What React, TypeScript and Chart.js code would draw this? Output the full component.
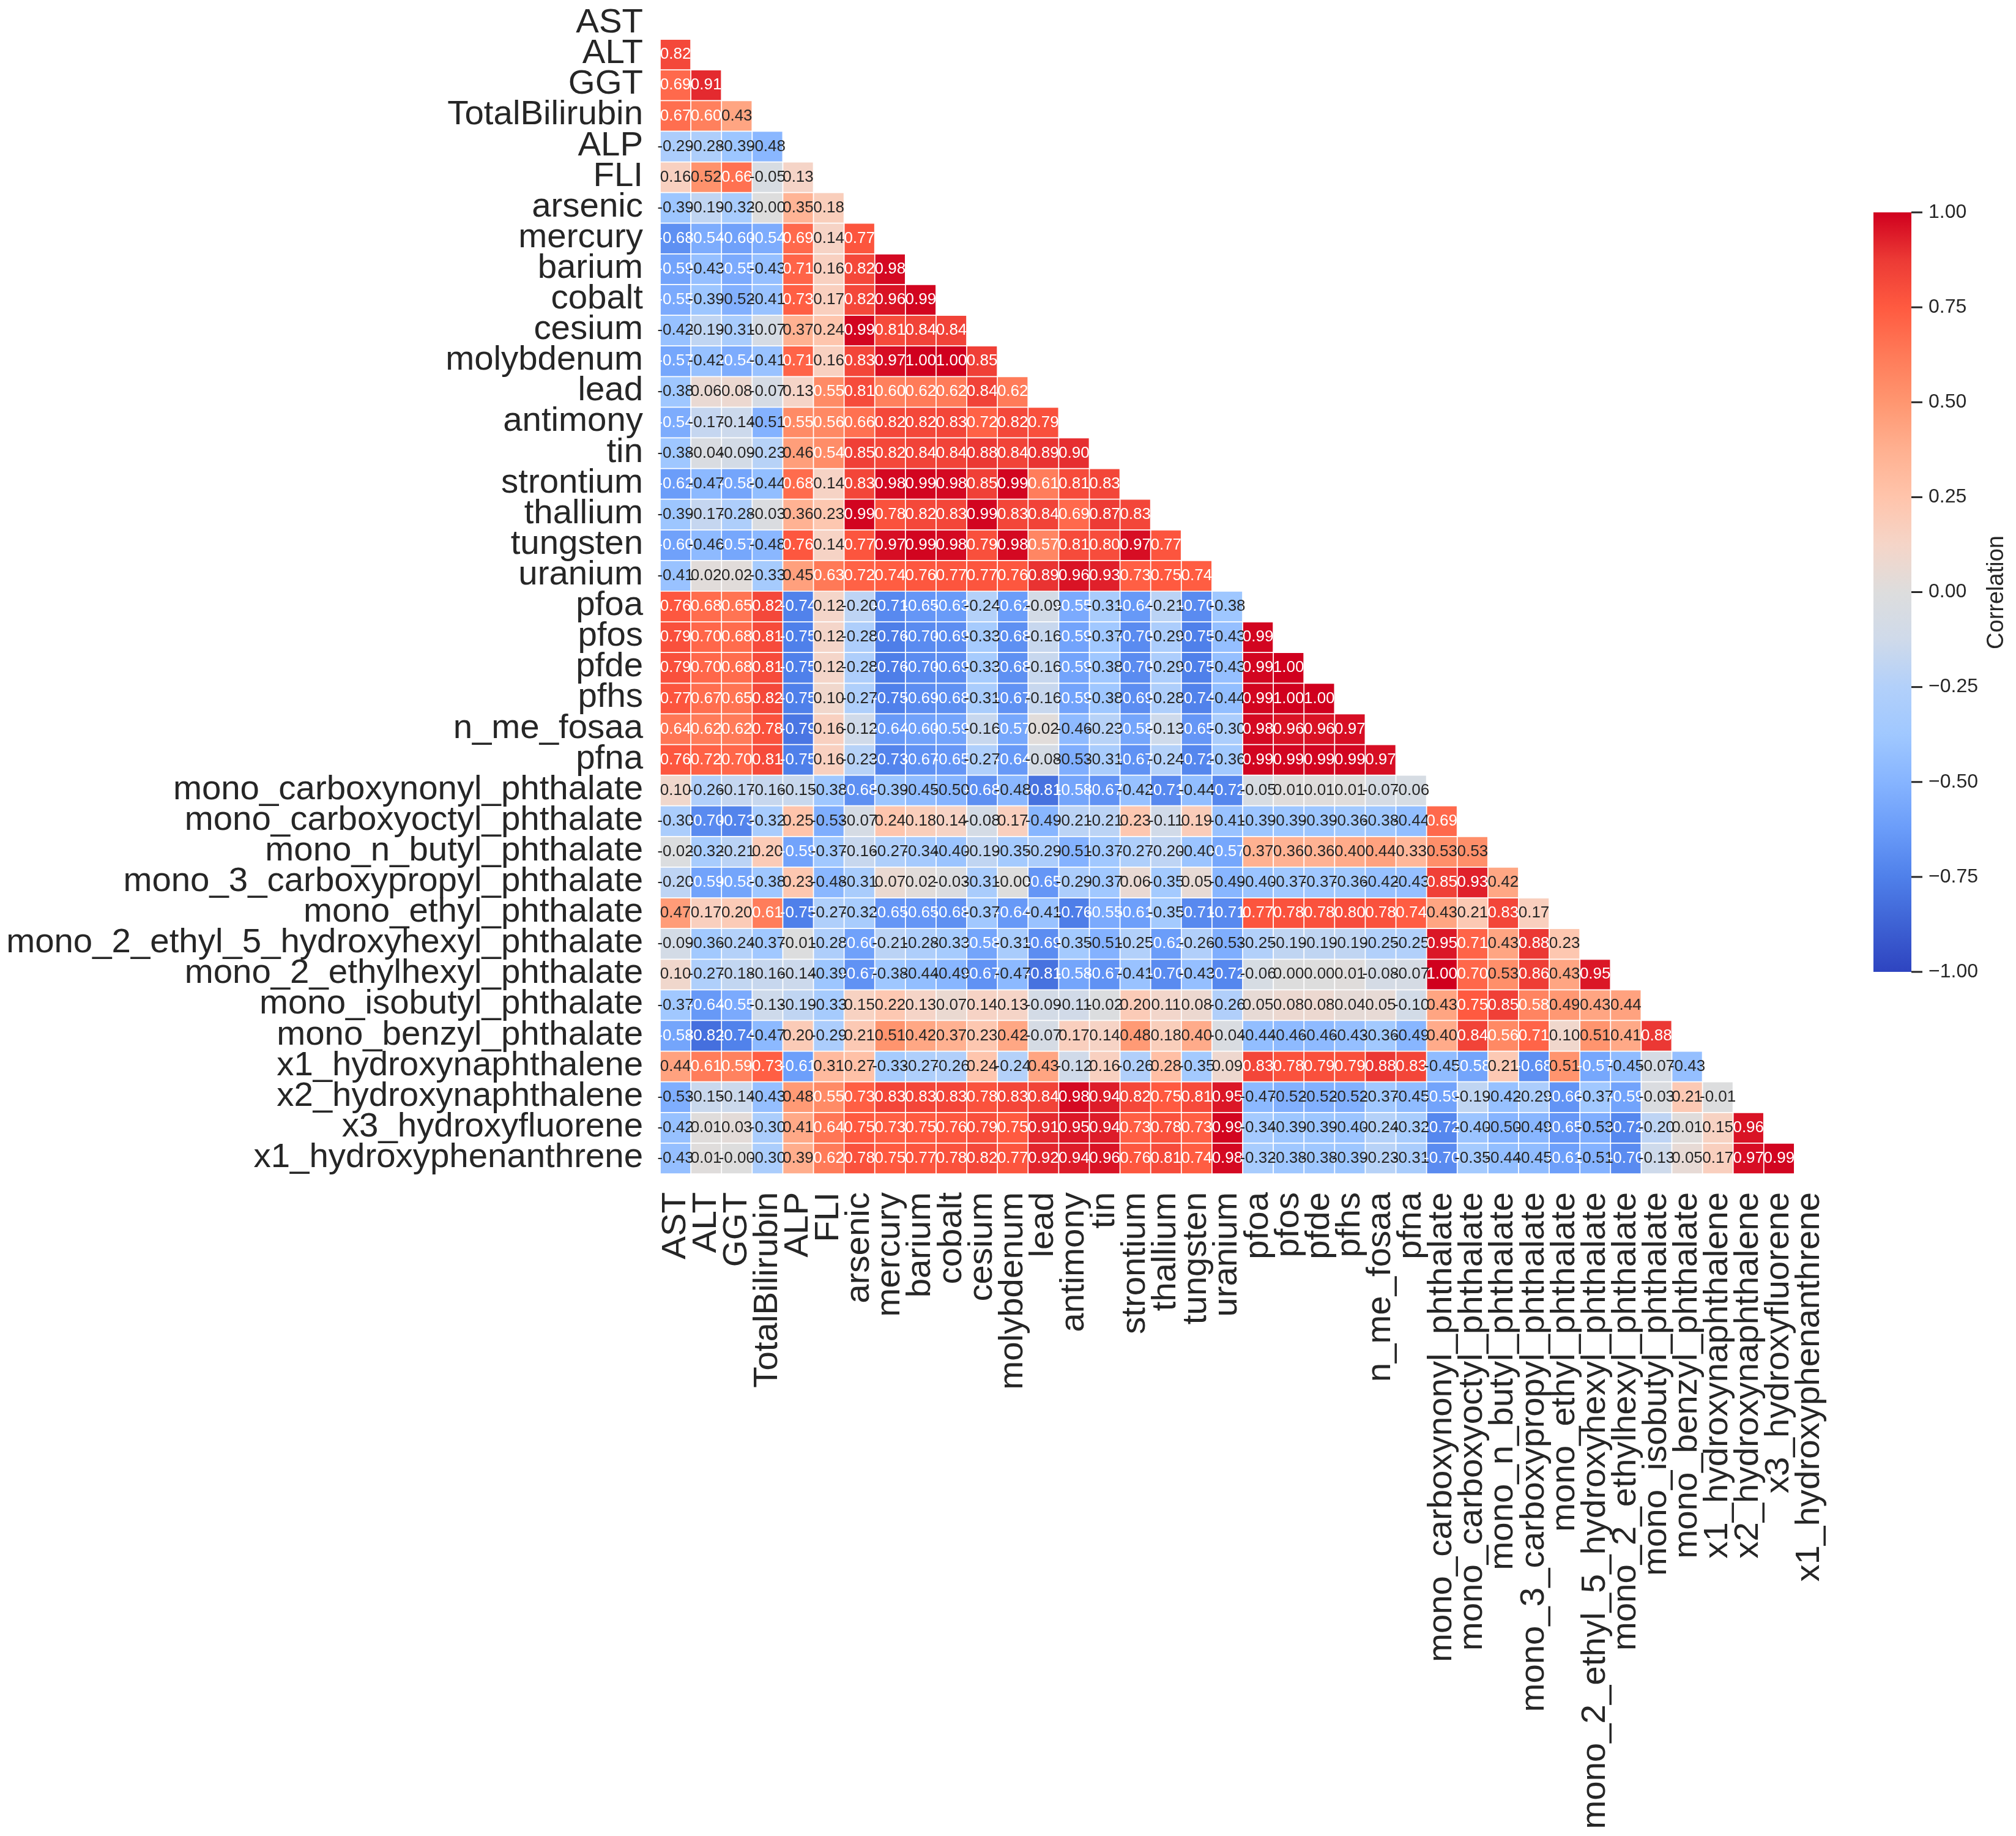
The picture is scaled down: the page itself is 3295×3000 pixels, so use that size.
import React, { useEffect, useRef } from "react";
import { Chart, registerables } from "chart.js";

Chart.register(...registerables);

const variables = [
  "AST", "ALT", "GGT", "TotalBilirubin", "ALP", "FLI", "arsenic", "mercury", "barium", "cobalt",
  "cesium", "molybdenum", "lead", "antimony", "tin", "strontium", "thallium", "tungsten", "uranium",
  "pfoa", "pfos", "pfde", "pfhs", "n_me_fosaa", "pfna", "mono_carboxynonyl_phthalate",
  "mono_carboxyoctyl_phthalate", "mono_n_butyl_phthalate", "mono_3_carboxypropyl_phthalate",
  "mono_ethyl_phthalate", "mono_2_ethyl_5_hydroxyhexyl_phthalate", "mono_2_ethylhexyl_phthalate",
  "mono_isobutyl_phthalate", "mono_benzyl_phthalate", "x1_hydroxynaphthalene", "x2_hydroxynaphthalene",
  "x3_hydroxyfluorene", "x1_hydroxyphenanthrene",
];

const rowAST: number[] = [];
const rowALT = [0.82];
const rowGGT = [0.69, 0.91];
const rowBilirubin = [0.67, 0.6, 0.43];
const rowALP = [-0.29, -0.28, -0.39, -0.48];
const rowFLI = [0.16, 0.52, 0.66, -0.05, 0.13];
const rowArsenic = [-0.39, -0.19, -0.32, -0.001, 0.35, 0.18];
const rowMercury = [-0.68, -0.54, -0.6, -0.54, 0.69, 0.14, 0.77];
const rowBarium = [-0.59, -0.43, -0.55, -0.43, 0.71, 0.16, 0.82, 0.98];
const rowCobalt = [-0.55, -0.39, -0.52, -0.41, 0.73, 0.17, 0.82, 0.96, 0.99];
const rowCesium = [-0.42, -0.19, -0.31, -0.07, 0.37, 0.24, 0.99, 0.81, 0.84, 0.84];
const rowMolybdenum = [-0.57, -0.42, -0.54, -0.41, 0.71, 0.16, 0.83, 0.97, 1.0, 1.0, 0.85];
const rowLead = [-0.38, 0.06, 0.08, -0.07, 0.13, 0.55, 0.81, 0.6, 0.62, 0.62, 0.84, 0.62];
const rowAntimony = [-0.54, -0.17, -0.14, -0.51, 0.55, 0.56, 0.66, 0.82, 0.82, 0.83, 0.72, 0.82, 0.79];
const rowTin = [-0.38, -0.04, -0.09, -0.23, 0.46, 0.54, 0.85, 0.82, 0.84, 0.84, 0.88, 0.84, 0.89, 0.9];
const rowStrontium = [-0.62, -0.47, -0.58, -0.44, 0.68, 0.14, 0.83, 0.98, 0.99, 0.98, 0.85, 0.99, 0.61, 0.81, 0.83];
const rowThallium = [-0.39, -0.17, -0.28, -0.03, 0.36, 0.23, 0.99, 0.78, 0.82, 0.83, 0.99, 0.83, 0.84, 0.69, 0.87, 0.83];
const rowTungsten = [-0.6, -0.46, -0.57, -0.48, 0.76, 0.14, 0.77, 0.97, 0.99, 0.98, 0.79, 0.98, 0.57, 0.81, 0.8, 0.97, 0.77];
const rowUranium = [-0.41, 0.02, 0.02, -0.33, 0.45, 0.63, 0.72, 0.74, 0.76, 0.77, 0.77, 0.76, 0.89, 0.96, 0.93, 0.73, 0.75, 0.74];
const rowPfoa = [0.76, 0.68, 0.65, 0.82, -0.74, 0.12, -0.2, -0.71, -0.65, -0.63, -0.24, -0.62, -0.09, -0.55, -0.31, -0.64, -0.21, -0.7, -0.38];
const rowPfos = [0.79, 0.7, 0.68, 0.81, -0.75, 0.12, -0.28, -0.76, -0.7, -0.69, -0.33, -0.68, -0.16, -0.59, -0.37, -0.7, -0.29, -0.75, -0.43, 0.99];
const rowPfde = [0.79, 0.7, 0.68, 0.81, -0.75, 0.12, -0.28, -0.76, -0.7, -0.69, -0.33, -0.68, -0.16, -0.59, -0.38, -0.7, -0.29, -0.75, -0.43, 0.99, 1.0];
const rowPfhs = [0.77, 0.67, 0.65, 0.82, -0.75, 0.1, -0.27, -0.75, -0.69, -0.68, -0.31, -0.67, -0.16, -0.59, -0.38, -0.69, -0.28, -0.74, -0.44, 0.99, 1.0, 1.0];
const rowFosaa = [0.64, 0.62, 0.62, 0.78, -0.79, 0.16, -0.12, -0.64, -0.6, -0.59, -0.16, -0.57, 0.02, -0.46, -0.23, -0.58, -0.13, -0.65, -0.3, 0.98, 0.96, 0.96, 0.97];
const rowPfna = [0.76, 0.72, 0.7, 0.81, -0.75, 0.16, -0.23, -0.73, -0.67, -0.65, -0.27, -0.64, -0.08, -0.53, -0.31, -0.67, -0.24, -0.72, -0.36, 0.99, 0.99, 0.99, 0.99, 0.97];
const rowCarboxynonyl = [0.1, -0.26, -0.17, -0.16, -0.15, -0.38, -0.68, -0.39, -0.45, -0.5, -0.68, -0.48, -0.81, -0.58, -0.67, -0.42, -0.71, -0.44, -0.72, -0.05, 0.01, 0.01, 0.01, -0.07, -0.06];
const rowCarboxyoctyl = [-0.3, -0.7, -0.73, -0.32, 0.25, -0.53, -0.07, 0.24, 0.18, 0.14, -0.08, 0.17, -0.49, -0.21, -0.21, 0.23, -0.11, 0.19, -0.41, -0.39, -0.39, -0.39, -0.36, -0.38, -0.44, 0.69];
const rowButyl = [-0.02, -0.32, -0.21, 0.2, -0.59, -0.37, -0.16, -0.27, -0.34, -0.4, -0.19, -0.35, -0.29, -0.51, -0.37, -0.27, -0.2, -0.4, -0.57, 0.37, 0.36, 0.36, 0.4, 0.44, 0.33, 0.53, 0.53];
const rowCarboxypropyl = [-0.2, -0.59, -0.58, -0.38, 0.23, -0.48, -0.31, 0.07, 0.02, -0.03, -0.31, -0.001, -0.65, -0.29, -0.37, 0.06, -0.35, 0.05, -0.49, -0.4, -0.37, -0.37, -0.36, -0.42, -0.43, 0.85, 0.93, 0.42];
const rowEthyl = [0.47, 0.17, 0.2, 0.61, -0.75, -0.27, -0.32, -0.65, -0.65, -0.68, -0.37, -0.64, -0.41, -0.76, -0.55, -0.61, -0.35, -0.71, -0.71, 0.77, 0.78, 0.78, 0.8, 0.78, 0.74, 0.43, 0.21, 0.83, 0.17];
const rowEthylHydroxyhexyl = [-0.09, -0.36, -0.24, -0.37, -0.01, -0.28, -0.6, -0.21, -0.28, -0.33, -0.58, -0.31, -0.69, -0.35, -0.51, -0.25, -0.62, -0.26, -0.53, -0.25, -0.19, -0.19, -0.19, -0.25, -0.25, 0.95, 0.71, 0.43, 0.88, 0.23];
const rowEthylhexyl = [0.1, -0.27, -0.18, -0.16, -0.14, -0.39, -0.67, -0.38, -0.44, -0.49, -0.67, -0.47, -0.81, -0.58, -0.67, -0.41, -0.7, -0.43, -0.72, -0.06, 0.0, 0.0, 0.01, -0.08, -0.07, 1.0, 0.7, 0.53, 0.86, 0.43, 0.95];
const rowIsobutyl = [-0.37, -0.64, -0.55, -0.13, -0.19, -0.33, 0.15, 0.22, 0.13, 0.07, 0.14, 0.13, -0.09, -0.11, -0.02, 0.2, 0.11, 0.08, -0.26, 0.05, 0.08, 0.08, 0.04, 0.05, -0.1, 0.43, 0.75, 0.85, 0.58, 0.49, 0.43, 0.44];
const rowBenzyl = [-0.58, -0.82, -0.74, -0.47, 0.2, -0.29, 0.21, 0.51, 0.42, 0.37, 0.23, 0.42, -0.07, 0.17, 0.14, 0.48, 0.18, 0.4, -0.04, -0.44, -0.46, -0.46, -0.43, -0.36, -0.49, 0.4, 0.84, 0.56, 0.71, 0.1, 0.51, 0.41, 0.88];
const rowX1Naph = [0.44, 0.61, 0.59, 0.73, -0.61, 0.31, 0.27, -0.33, -0.27, -0.26, 0.24, -0.24, 0.43, -0.12, 0.16, -0.26, 0.28, -0.35, 0.09, 0.83, 0.78, 0.79, 0.79, 0.88, 0.83, -0.45, -0.58, 0.21, -0.68, 0.51, -0.57, -0.45, -0.07, -0.43];
const rowX2Naph = [-0.53, -0.15, -0.14, -0.43, 0.48, 0.55, 0.73, 0.83, 0.83, 0.83, 0.78, 0.83, 0.84, 0.98, 0.94, 0.82, 0.75, 0.81, 0.95, -0.47, -0.52, -0.52, -0.52, -0.37, -0.45, -0.59, -0.19, -0.42, -0.29, -0.66, -0.37, -0.59, -0.03, 0.21, -0.01];
const rowX3Fluorene = [-0.42, 0.01, 0.03, -0.3, 0.41, 0.64, 0.75, 0.73, 0.75, 0.76, 0.79, 0.75, 0.91, 0.95, 0.94, 0.73, 0.78, 0.73, 0.99, -0.34, -0.39, -0.39, -0.4, -0.24, -0.32, -0.72, -0.4, -0.5, -0.49, -0.65, -0.53, -0.72, -0.2, 0.01, 0.15, 0.96];
const rowX1Phenanthrene = [-0.43, 0.01, -0.001, -0.3, 0.39, 0.62, 0.78, 0.75, 0.77, 0.78, 0.82, 0.77, 0.92, 0.94, 0.96, 0.76, 0.81, 0.74, 0.98, -0.32, -0.38, -0.38, -0.39, -0.23, -0.31, -0.7, -0.35, -0.44, -0.45, -0.61, -0.51, -0.7, -0.13, 0.05, 0.17, 0.97, 0.99];

const matrixRows = [
  rowAST, rowALT, rowGGT, rowBilirubin, rowALP, rowFLI, rowArsenic, rowMercury, rowBarium, rowCobalt,
  rowCesium, rowMolybdenum, rowLead, rowAntimony, rowTin, rowStrontium, rowThallium, rowTungsten, rowUranium,
  rowPfoa, rowPfos, rowPfde, rowPfhs, rowFosaa, rowPfna, rowCarboxynonyl, rowCarboxyoctyl, rowButyl,
  rowCarboxypropyl, rowEthyl, rowEthylHydroxyhexyl, rowEthylhexyl, rowIsobutyl, rowBenzyl, rowX1Naph,
  rowX2Naph, rowX3Fluorene, rowX1Phenanthrene,
];

const colorbarTicks = [1, 0.75, 0.5, 0.25, 0, -0.25, -0.5, -0.75, -1];
const colorbarTitle = "Correlation";

const colorStops: [number, string][] = [
  [-1, "#2e44c0"], [-0.875, "#3e62d4"], [-0.75, "#4f80ea"], [-0.625, "#6a9cf9"], [-0.5, "#86b4ff"],
  [-0.375, "#a0c8ff"], [-0.25, "#b2d0fa"], [-0.125, "#cfdaea"], [0, "#dddddd"], [0.125, "#f5d5c8"],
  [0.25, "#ffc4ab"], [0.375, "#ffb090"], [0.5, "#ff9670"], [0.625, "#ff7a58"], [0.75, "#ff5a40"],
  [0.875, "#ec3a35"], [1, "#d0001e"],
];

const hexToRgb = (h: string) => [1, 3, 5].map((i) => parseInt(h.slice(i, i + 2), 16));

function colorFor(v: number): string {
  for (let i = 1; i < colorStops.length; i++) {
    const [b, cb] = colorStops[i];
    if (v <= b) {
      const [a, ca] = colorStops[i - 1];
      const t = (v - a) / (b - a);
      const A = hexToRgb(ca);
      const B = hexToRgb(cb);
      return `rgb(${A.map((x, k) => Math.round(x + (B[k] - x) * t)).join(",")})`;
    }
  }
  return colorStops[colorStops.length - 1][1];
}

const FONT = "'Liberation Sans', Arial, sans-serif";
const PLOT = { left: 1079, top: 14, right: 2983, bottom: 1918 };
const BAR = { left: 3062, right: 3124, tick: 18 };
const BAR_MIN = -1.5318;
const BAR_MAX = 1.5367;

const cellFormat = (v: number) => (v < 0 && v > -0.005 ? "-0.00" : v.toFixed(2));

const clearPadding = (s: any) => {
  s.paddingTop = 0;
  s.paddingBottom = 0;
  s.paddingLeft = 0;
  s.paddingRight = 0;
};

const overlayPlugin = {
  id: "heatOverlay",
  afterDatasetsDraw(chart: any) {
    const { ctx, scales } = chart;
    const { x, y, cbar } = scales;
    ctx.save();
    ctx.font = `26px ${FONT}`;
    ctx.textAlign = "center";
    ctx.textBaseline = "middle";
    matrixRows.forEach((vals, r) => {
      vals.forEach((v, c) => {
        ctx.fillStyle = Math.abs(v) >= 0.535 ? "#ffffff" : "#262626";
        ctx.fillText(cellFormat(v), x.getPixelForValue(c), y.getPixelForValue(r + 0.5));
      });
    });
    const top = cbar.getPixelForValue(1);
    const bottom = cbar.getPixelForValue(-1);
    const g = ctx.createLinearGradient(0, bottom, 0, top);
    colorStops.forEach(([v, col]) => g.addColorStop((v + 1) / 2, col));
    ctx.fillStyle = g;
    ctx.fillRect(BAR.left, top, BAR.right - BAR.left, bottom - top);
    ctx.strokeStyle = "#262626";
    ctx.lineWidth = 3;
    colorbarTicks.forEach((t) => {
      const py = cbar.getPixelForValue(t);
      ctx.beginPath();
      ctx.moveTo(BAR.right, py);
      ctx.lineTo(BAR.right + BAR.tick, py);
      ctx.stroke();
    });
    ctx.translate(3264, 968);
    ctx.rotate(-Math.PI / 2);
    ctx.fillStyle = "#262626";
    ctx.font = `38px ${FONT}`;
    ctx.fillText(colorbarTitle, 0, 0);
    ctx.restore();
  },
};

export default function App() {
  const ref = useRef<HTMLCanvasElement | null>(null);
  useEffect(() => {
    document.body.style.margin = "0";
    const datasets = matrixRows.map((vals, r) => ({
      data: vals.map(() => [r, r + 1]) as any,
      backgroundColor: vals.map(colorFor),
      borderColor: "#ffffff",
      borderWidth: 1.2,
      borderSkipped: false,
      grouped: false,
      barPercentage: 1,
      categoryPercentage: 1,
      xAxisID: "x",
      yAxisID: "y",
    }));
    const chart = new Chart(ref.current as HTMLCanvasElement, {
      type: "bar",
      data: { labels: variables, datasets },
      plugins: [overlayPlugin],
      options: {
        animation: false,
        responsive: false,
        devicePixelRatio: 1,
        layout: { padding: { top: PLOT.top, left: 0, right: 0, bottom: 0 } },
        plugins: { legend: { display: false }, tooltip: { enabled: false }, title: { display: false } },
        scales: {
          x: {
            type: "category",
            grid: { display: false, drawTicks: false },
            border: { display: false },
            ticks: {
              autoSkip: false,
              maxRotation: 90,
              minRotation: 90,
              padding: 30,
              color: "#262626",
              font: { family: FONT, size: 56.4 },
            },
            afterFit: (s: any) => {
              s.height = 3000 - PLOT.bottom;
              clearPadding(s);
            },
          },
          y: {
            type: "linear",
            reverse: true,
            min: 0,
            max: variables.length,
            grid: { display: false, drawTicks: false },
            border: { display: false },
            ticks: {
              autoSkip: false,
              padding: 28,
              color: "#262626",
              font: { family: FONT, size: 56.4 },
              callback: (_v: any, i: number) => variables[i],
            },
            afterBuildTicks: (s: any) => {
              s.ticks = variables.map((_, i) => ({ value: i + 0.47 }));
            },
            afterFit: (s: any) => {
              s.width = PLOT.left;
              clearPadding(s);
            },
          },
          cbar: {
            type: "linear",
            position: "right",
            min: BAR_MIN,
            max: BAR_MAX,
            grid: { display: false, drawTicks: false },
            border: { display: false },
            ticks: {
              autoSkip: false,
              padding: 169,
              color: "#262626",
              font: { family: FONT, size: 32 },
              callback: (v: any) => (v < 0 ? "\u2212" : "") + Math.abs(Number(v)).toFixed(2),
            },
            afterBuildTicks: (s: any) => {
              s.ticks = colorbarTicks.map((value) => ({ value }));
            },
            afterFit: (s: any) => {
              s.width = 3295 - PLOT.right;
              clearPadding(s);
            },
          },
        },
      } as any,
    });
    return () => chart.destroy();
  }, []);
  return <canvas ref={ref} width={3295} height={3000} style={{ display: "block" }} />;
}
